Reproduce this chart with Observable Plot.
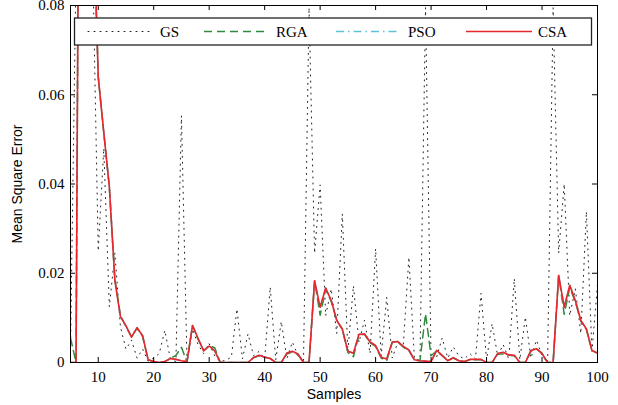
<!DOCTYPE html>
<html><head><meta charset="utf-8">
<script src="https://cdn.jsdelivr.net/npm/d3@7"></script>
<script src="https://cdn.jsdelivr.net/npm/@observablehq/plot@0.6"></script>
<style>body{margin:0;background:#fff;} svg{display:block}</style>
</head><body><div id="chart"></div>
<script>
const samples = [5,6,7,8,9,10,11,12,13,14,15,16,17,18,19,20,21,22,23,24,25,26,27,28,29,30,31,32,33,34,35,36,37,38,39,40,41,42,43,44,45,46,47,48,49,50,51,52,53,54,55,56,57,58,59,60,61,62,63,64,65,66,67,68,69,70,71,72,73,74,75,76,77,78,79,80,81,82,83,84,85,86,87,88,89,90,91,92,93,94,95,96,97,98,99,100];

const GS = [0.003,0.088,0.13,0.12,0.09,0.025,0.048,0.0125,0.0245,0.008,
0.003,0.005,0.001,0.003,0.0003,0.001,0.002,0.0072,0.0008,0.0002,
0.0553,0.0003,0.0075,0.004,0.002,0.0042,0.0015,0.0002,0.0005,0.0012,
0.012,0.0008,0.0064,0.0015,0.0025,0.0008,0.0169,0.0006,0.0092,0.0008,
0.0046,0.0015,0.0,0.0795,0.0245,0.0398,0.0105,0.0165,0.0065,0.0333,
0.0025,0.0172,0.0045,0.0095,0.002,0.0255,0.0015,0.0146,0.001,0.0045,
0.004,0.0236,0.0008,0.0005,0.0795,0.0006,0.0012,0.0055,0.001,0.0035,
0.0015,0.0008,0.002,0.0008,0.0155,0.0006,0.0087,0.0015,0.004,0.0008,
0.0188,0.0006,0.0102,0.001,0.005,0.0015,0.0,0.0795,0.0245,0.040,
0.0105,0.0165,0.0065,0.0338,0.0025,0.0175];

const RGA = [0.0055,0,0.235,0.16,0.106,0.064,0.0515,0.0394,0.0186,0.0106,
0.0080,0.0058,0.0077,0.0058,0.0006,0.0002,0.0,0.0002,0.0009,0.0016,
0.0034,0.0001,0.0083,0.0052,0.0027,0.0038,0.0033,0,0,0,
0,0,0,0.0011,0.0015,0.0012,0.0009,0,0,0.0019,
0.0024,0.0018,0,0,0.0183,0.0106,0.0164,0.0137,0.0094,0.0074,
0.0022,0.0013,0.0062,0.0063,0.0044,0.0036,0.0010,0.0004,0.0045,0.0046,
0.0034,0.0027,0.0005,0.0004,0.0109,0.0015,0.0026,0.0015,0.0004,0.0010,
0.0004,0.0002,0.0006,0.0006,0.0006,0,0,0.0019,0.0019,0.0016,
0.0015,0,0,0.0025,0.0030,0.0021,0,0,0.0195,0.0108,
0.0168,0.0136,0.0092,0.0074,0.0026,0.0021];

const PSO = [0,0,0.235,0.16,0.106,0.064,0.0515,0.0394,0.0184,0.0103,
0.0082,0.0057,0.0078,0.0060,0.0006,0.0002,0.0,0.0002,0.0009,0.0007,
0.0004,0.0002,0.0083,0.0054,0.0026,0.0037,0.0026,0,0,0,
0,0,0,0.0011,0.0016,0.0012,0.0009,0,0,0.0021,
0.0025,0.0019,0,0,0.0183,0.0124,0.0167,0.0139,0.0094,0.0075,
0.0025,0.0021,0.0063,0.0064,0.0046,0.0038,0.0012,0.0008,0.0046,0.0047,
0.0036,0.0028,0.0006,0.0004,0.0003,0.0002,0.0027,0.0016,0.0004,0.0011,
0.0004,0.0002,0.0007,0.0007,0.0007,0,0,0.0020,0.0023,0.0017,
0.0016,0,0,0.0027,0.0031,0.0020,0,0,0.0195,0.0124,
0.0173,0.0139,0.0094,0.0075,0.0027,0.0021];

const CSA = [0,0,0.235,0.16,0.106,0.064,0.0515,0.0394,0.0184,0.0103,
0.0082,0.0057,0.0078,0.0060,0.0006,0.0002,0.0,0.0002,0.0009,0.0007,
0.0004,0.0002,0.0083,0.0054,0.0026,0.0037,0.0026,0,0,0,
0,0,0,0.0011,0.0016,0.0012,0.0009,0,0,0.0021,
0.0025,0.0019,0,0,0.0183,0.0124,0.0167,0.0139,0.0094,0.0075,
0.0025,0.0021,0.0063,0.0064,0.0046,0.0038,0.0012,0.0008,0.0046,0.0047,
0.0036,0.0028,0.0006,0.0004,0.0003,0.0002,0.0027,0.0016,0.0004,0.0011,
0.0004,0.0002,0.0007,0.0007,0.0007,0,0,0.0020,0.0023,0.0017,
0.0016,0,0,0.0027,0.0031,0.0020,0,0,0.0195,0.0124,
0.0173,0.0139,0.0094,0.0075,0.0027,0.0021];

const seriesNames = ["GS","RGA","PSO","CSA"];
const seriesValues = [GS, RGA, PSO, CSA];
const xTicks = [10,20,30,40,50,60,70,80,90,100];
const yTicks = [0,0.02,0.04,0.06,0.08];
const yTickLabels = ["0","0.02","0.04","0.06","0.08"];
const xLabel = "Samples";
const yLabel = "Mean Square Error";

// styles
const styles = {
  GS:  {stroke:"#222", strokeWidth:1, strokeDasharray:"1,5", strokeLinecap:"round"},
  RGA: {stroke:"#2e8b3e", strokeWidth:1.5, strokeDasharray:"8,5"},
  PSO: {stroke:"#5cc3d6", strokeWidth:1.5, strokeDasharray:"8,4,1.5,4"},
  CSA: {stroke:"#e8262b", strokeWidth:1.6}
};

const W = 618, H = 405, mL = 70, mR = 21, mT = 5, mB = 43;
const plotW = W - mL - mR, plotH = H - mT - mB;

const tables = seriesNames.map((n, k) => samples.map((s, i) => ({s, v: seriesValues[k][i]})));

const plot = Plot.plot({
  width: W, height: H,
  marginLeft: mL, marginRight: mR, marginTop: mT, marginBottom: mB,
  x: {domain: [5, 100]},
  y: {domain: [0, 0.08]},
  style: {fontFamily: "'Liberation Serif', serif", fontSize: "15px", color: "#000", background: "#fff", overflow: "visible"},
  marks: [
    ...seriesNames.map((n, k) => Plot.line(tables[k], {x: "s", y: "v", clip: true, ...styles[n]})),
    Plot.frame({stroke: "#000", strokeWidth: 1}),
    Plot.tickX(xTicks, {x: d => d, insetTop: plotH - 5, stroke: "#000"}),
    Plot.tickX(xTicks, {x: d => d, insetBottom: plotH - 5, stroke: "#000"}),
    Plot.tickY(yTicks, {y: d => d, insetLeft: plotW - 5, stroke: "#000"}),
    Plot.tickY(yTicks, {y: d => d, insetRight: plotW - 5, stroke: "#000"}),
    Plot.axisX({ticks: xTicks, tickSize: 0, tickPadding: 9, label: null, fontSize: 15}),
    Plot.axisY({ticks: yTicks, tickSize: 0, tickPadding: 6, label: null, fontSize: 15,
      tickFormat: d => yTickLabels[yTicks.indexOf(d)]}),
    Plot.text([xLabel], {text: d => d, frameAnchor: "bottom", lineAnchor: "middle", textAnchor: "middle", dy: 32.5, fontFamily: "'Liberation Sans', Arial, sans-serif", fontSize: 14, fill: "#000"}),
    Plot.text([yLabel], {text: d => d, frameAnchor: "left", lineAnchor: "middle", textAnchor: "middle", dx: -53, rotate: -90, fontFamily: "'Liberation Sans', Arial, sans-serif", fontSize: 14, fill: "#000"})
  ]
});

// legend (inside plot, upper area)
const legendBox = {x: 74.5, y: 18, w: 517, h: 27};
const legendLayout = [
  {x1: 88, x2: 150, tx: 160},
  {x1: 204, x2: 268, tx: 276},
  {x1: 336, x2: 397, tx: 408},
  {x1: 466, x2: 532, tx: 538}
];
const svg = d3.select(plot);
const lg = svg.append("g");
lg.append("rect").attr("x", legendBox.x).attr("y", legendBox.y).attr("width", legendBox.w).attr("height", legendBox.h)
  .attr("fill", "#fff").attr("stroke", "#222").attr("stroke-width", 1.3);
seriesNames.forEach((n, k) => {
  const L = legendLayout[k], st = styles[n];
  const cy = legendBox.y + legendBox.h / 2;
  lg.append("line").attr("x1", L.x1).attr("x2", L.x2).attr("y1", cy).attr("y2", cy)
    .attr("stroke", st.stroke).attr("stroke-width", st.strokeWidth)
    .attr("stroke-dasharray", st.strokeDasharray || null).attr("stroke-linecap", st.strokeLinecap || null);
  lg.append("text").attr("x", L.tx).attr("y", cy + 5.5).text(n)
    .attr("text-anchor", "start")
    .attr("font-family", "'Liberation Serif', serif").attr("font-size", 15).attr("fill", "#000");
});

document.getElementById("chart").appendChild(plot);
</script>
</body></html>
